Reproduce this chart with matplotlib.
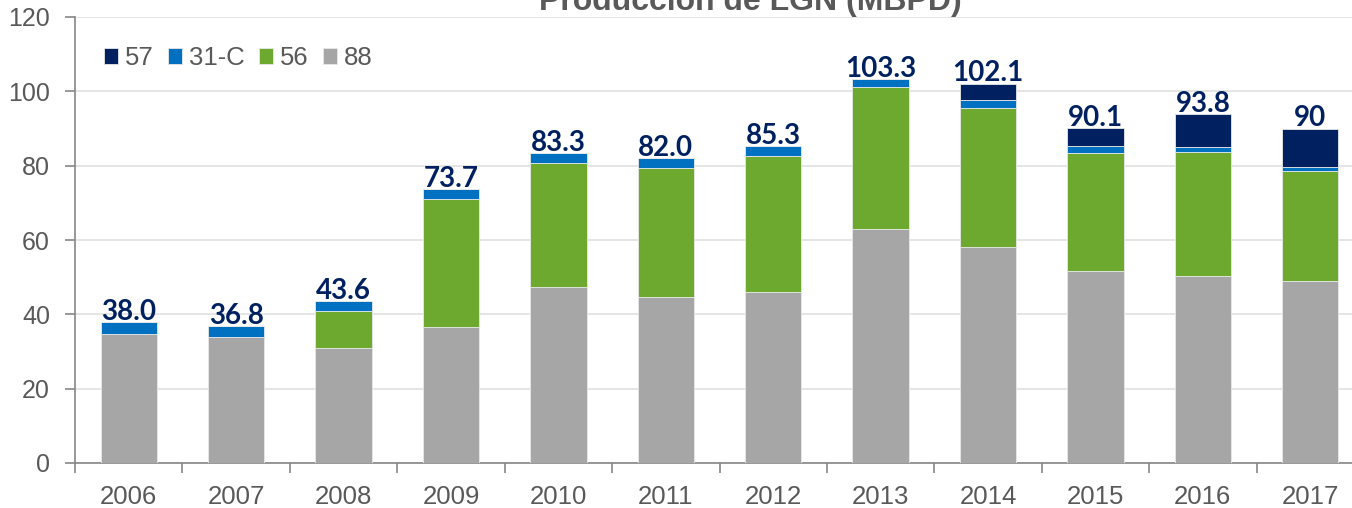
import numpy as np
import matplotlib.pyplot as plt

# Producción de LGN (MBPD) por lote
years = ['2006', '2007', '2008', '2009', '2010', '2011',
         '2012', '2013', '2014', '2015', '2016', '2017']
lote_88 = [34.7, 33.8, 30.9, 36.6, 47.4, 44.7, 46.0, 63.0, 58.1, 51.6, 50.3, 49.0]
lote_56 = [0.0, 0.0, 10.0, 34.4, 33.3, 34.8, 36.6, 38.1, 37.5, 31.8, 33.4, 29.5]
lote_31c = [3.3, 3.0, 2.7, 2.7, 2.6, 2.5, 2.7, 2.2, 2.1, 1.9, 1.3, 1.1]
lote_57 = [0.0, 0.0, 0.0, 0.0, 0.0, 0.0, 0.0, 0.0, 4.4, 4.8, 8.8, 10.4]
total_labels = ['38.0', '36.8', '43.6', '73.7', '83.3', '82.0',
                '85.3', '103.3', '102.1', '90.1', '93.8', '90']

c_57 = '#002060'
c_31c = '#0070C0'
c_56 = '#6EA92F'
c_88 = '#A6A6A6'
txt = '#595959'

plt.rcParams['font.family'] = ['Liberation Sans', 'DejaVu Sans']

fig = plt.figure(figsize=(13.52, 5.08), dpi=100)
# axes runs a bit past the right edge, as in the original (cropped)
ax = fig.add_axes([75 / 1352, 45 / 508, 1289 / 1352, 446 / 508])

x = np.arange(len(years))
w = 0.525
b88 = np.array(lote_88)
b56 = b88 + np.array(lote_56)
b31 = b56 + np.array(lote_31c)
top = b31 + np.array(lote_57)

ax.bar(x, lote_88, w, color=c_88, label='88', zorder=3, edgecolor='#E8E8E8', linewidth=0.6)
ax.bar(x, lote_56, w, bottom=b88, color=c_56, label='56', zorder=3, edgecolor='#E8E8E8', linewidth=0.6)
ax.bar(x, lote_31c, w, bottom=b56, color=c_31c, label='31-C', zorder=3, edgecolor='#E8E8E8', linewidth=0.6)
ax.bar(x, lote_57, w, bottom=b31, color=c_57, label='57', zorder=3, edgecolor='#E8E8E8', linewidth=0.6)

for i, lab in enumerate(total_labels):
    ax.text(x[i], top[i] + 0.6, lab, ha='center', va='baseline',
            fontsize=20, fontweight='bold', color=c_57, family='Lato', zorder=4)

ax.set_ylim(0, 120)
ax.set_xlim(-0.5, len(years) - 0.5)
ax.set_yticks(range(0, 121, 20))
ax.yaxis.grid(True, color='#E0E0E0', linewidth=1.2, zorder=0)
ax.set_axisbelow(True)

ax.set_xticks(x)
ax.set_xticklabels(years)
ax.set_xticks(np.arange(-0.5, len(years), 1), minor=True)
ax.tick_params(axis='x', which='major', length=0, pad=16, labelsize=18.5, labelcolor=txt)
ax.tick_params(axis='x', which='minor', length=7, width=1.2, color='#868686')
ax.tick_params(axis='y', length=7, width=1.2, color='#868686', labelsize=18, labelcolor=txt, pad=11)

for s in ['top', 'right']:
    ax.spines[s].set_visible(False)
for s in ['left', 'bottom']:
    ax.spines[s].set_color('#868686')
    ax.spines[s].set_linewidth(1.2)

h, l = ax.get_legend_handles_labels()
order = [3, 2, 1, 0]
ax.legend([h[k] for k in order], [l[k] for k in order], loc='center left',
          bbox_to_anchor=(104 / 1352, 1 - 58 / 508), bbox_transform=fig.transFigure,
          borderaxespad=0, borderpad=0, ncol=4, frameon=False, fontsize=18.5,
          handlelength=0.55, handleheight=0.55, handletextpad=0.27,
          columnspacing=0.55, labelcolor=txt)

# title is partly cut at the top edge, as in the original
fig.text(750 / 1352, 1 - 10 / 508, 'Producción de LGN (MBPD)', ha='center',
         va='baseline', fontsize=23, fontweight='bold', color=txt)

fig.savefig('out.png', dpi=100)
